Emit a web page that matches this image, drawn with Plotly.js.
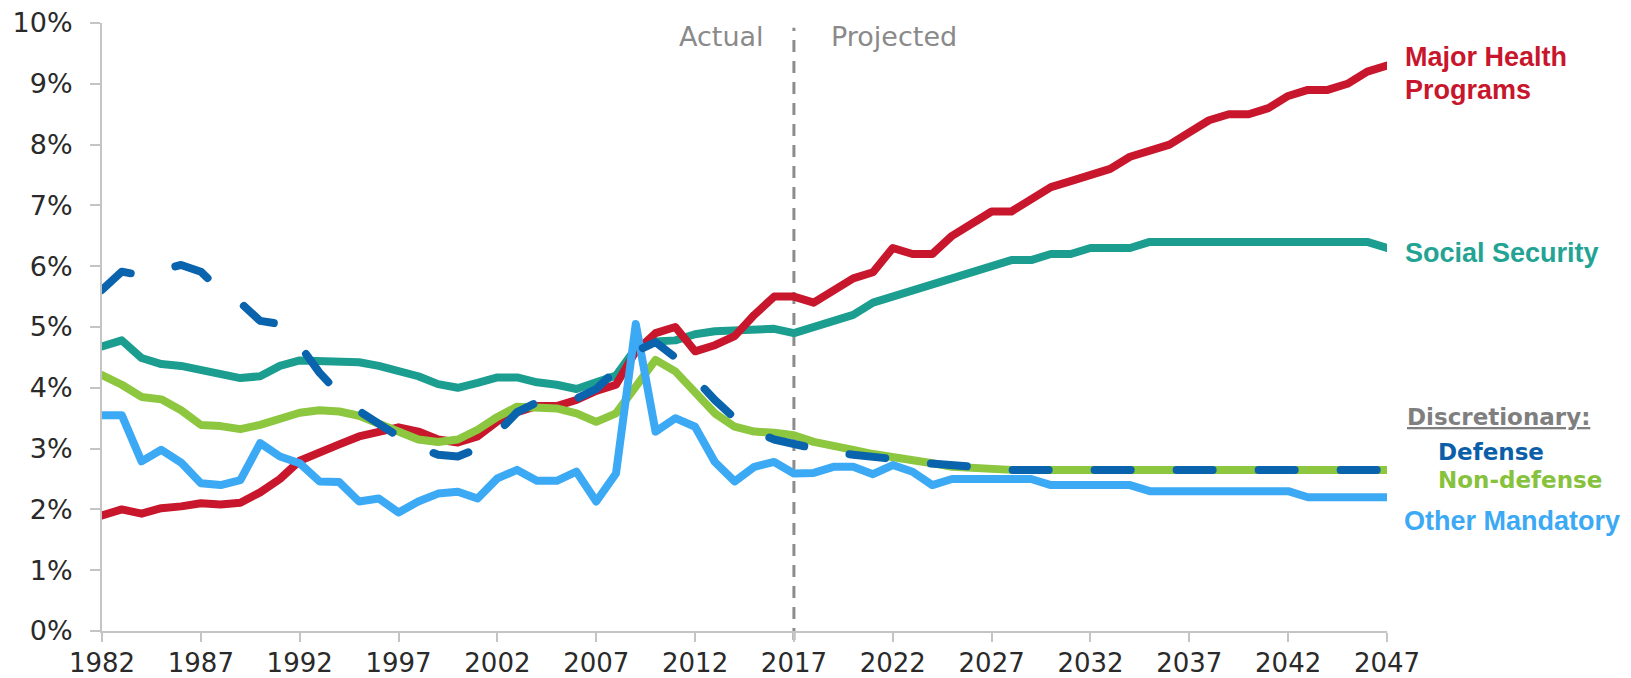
<!DOCTYPE html>
<html>
<head>
<meta charset="utf-8">
<script src="https://cdn.plot.ly/plotly-3.0.1.min.js"></script>
<style>
  html, body { margin: 0; padding: 0; background: #fff; }
  #chart { width: 1631px; height: 678px; }
  .scatterlayer .js-line { stroke-linejoin: round; stroke-linecap: round; }
</style>
</head>
<body>
<div id="chart"></div>
<script>
// ---- Data (share of GDP, %) ----
const years = [1982,1983,1984,1985,1986,1987,1988,1989,1990,1991,1992,1993,1994,1995,1996,1997,1998,1999,2000,2001,
  2002,2003,2004,2005,2006,2007,2008,2009,2010,2011,2012,2013,2014,2015,2016,2017,2018,2019,2020,2021,
  2022,2023,2024,2025,2026,2027,2028,2029,2030,2031,2032,2033,2034,2035,2036,2037,2038,2039,2040,2041,
  2042,2043,2044,2045,2046,2047];

const majorHealth = [1.9,2.0,1.93,2.02,2.05,2.1,2.08,2.11,2.28,2.5,2.8,2.95,3.07,3.2,3.28,3.35,3.28,3.15,3.1,3.2,
  3.45,3.6,3.7,3.7,3.8,3.95,4.05,4.6,4.9,5.0,4.6,4.7,4.85,5.2,5.5,5.5,5.4,5.6,5.8,5.9,
  6.3,6.2,6.2,6.5,6.7,6.9,6.9,7.1,7.3,7.4,7.5,7.6,7.8,7.9,8.0,8.2,8.4,8.5,8.5,8.6,
  8.8,8.9,8.9,9.0,9.2,9.3];

const socialSecurity = [4.68,4.78,4.49,4.39,4.36,4.3,4.24,4.16,4.19,4.36,4.45,4.45,4.43,4.42,4.36,4.29,4.19,4.06,4.0,4.08,
  4.17,4.17,4.09,4.05,3.98,4.09,4.2,4.65,4.76,4.78,4.88,4.93,4.95,4.95,4.97,4.9,5.0,5.1,5.2,5.4,
  5.5,5.6,5.7,5.8,5.9,6.0,6.1,6.1,6.2,6.2,6.3,6.3,6.3,6.4,6.4,6.4,6.4,6.4,6.4,6.4,
  6.4,6.4,6.4,6.4,6.4,6.3];

const defense = [5.61,5.91,5.85,5.92,6.02,5.91,5.6,5.4,5.1,5.05,4.7,4.25,3.9,3.62,3.4,3.2,3.02,2.9,2.87,3.0,
  3.26,3.6,3.76,3.8,3.82,3.98,4.3,4.6,4.75,4.5,4.15,3.8,3.5,3.28,3.15,3.07,3.0,2.93,2.9,2.88,
  2.83,2.78,2.75,2.72,2.68,2.65,2.65,2.65,2.65,2.65,2.65,2.65,2.65,2.65,2.65,2.65,2.65,2.65,2.65,2.65,
  2.65,2.65,2.65,2.65,2.65,2.65];

const nonDefense = [4.21,4.05,3.85,3.81,3.63,3.39,3.37,3.32,3.39,3.5,3.59,3.63,3.61,3.54,3.4,3.26,3.15,3.11,3.15,3.31,
  3.52,3.69,3.66,3.66,3.58,3.44,3.58,4.02,4.46,4.27,3.94,3.58,3.36,3.28,3.26,3.22,3.11,3.06,2.98,2.91,
  2.87,2.8,2.76,2.7,2.68,2.65,2.65,2.65,2.65,2.65,2.65,2.65,2.65,2.65,2.65,2.65,2.65,2.65,2.65,2.65,
  2.65,2.65,2.65,2.65,2.65,2.65];

const otherMandatory = [3.55,3.55,2.79,2.98,2.77,2.43,2.4,2.48,3.09,2.87,2.76,2.46,2.45,2.13,2.18,1.95,2.13,2.26,2.29,2.18,
  2.51,2.65,2.47,2.47,2.62,2.13,2.59,5.05,3.28,3.5,3.36,2.78,2.46,2.7,2.78,2.59,2.6,2.7,2.7,2.58,
  2.73,2.62,2.4,2.5,2.5,2.5,2.5,2.5,2.4,2.4,2.4,2.4,2.4,2.3,2.3,2.3,2.3,2.3,2.3,2.3,
  2.3,2.2,2.2,2.2,2.2,2.2];

const xTickVals = [1982,1987,1992,1997,2002,2007,2012,2017,2022,2027,2032,2037,2042,2047];
const yTickVals = [0,1,2,3,4,5,6,7,8,9,10];
const yTickText = ["0%","1%","2%","3%","4%","5%","6%","7%","8%","9%","10%"];
const splitYear = 2017;

const seriesNames = ["Social Security","Major Health Programs","Non-defense","Other Mandatory","Defense"];

// ---- Styles ----
const C = {
  red: "#c8162c",
  teal: "#1b9e8f",
  green: "#8dc63f",
  light: "#3ca9f5",
  navy: "#0a63ad",
  grayText: "#8a8a8a",
  axis: "#c4c4c4"
};
const LW = 8;

function line(y, name, color, dash) {
  return {
    x: years, y: y, name: name, type: "scatter", mode: "lines",
    line: { color: color, width: LW, dash: dash || "solid" },
    hoverinfo: "skip", showlegend: false, cliponaxis: false
  };
}

const traces = [
  line(socialSecurity, seriesNames[0], C.teal),
  line(majorHealth, seriesNames[1], C.red),
  line(nonDefense, seriesNames[2], C.green),
  line(otherMandatory, seriesNames[3], C.light),
  line(defense, seriesNames[4], C.navy, "36px,46px")
];

const px2x = p => (p - 102) / 1285;
const py2y = p => (631 - p) / 608;
const labelFont = (color, size) => ({ family: "Liberation Sans, Arial, sans-serif", size: size || 27, color: color, weight: 700 });
const discFont = (color) => ({ family: "DejaVu Sans", size: 23, color: color, weight: 700 });

const annotations = [
  { text: "Actual", xref: "x", yref: "paper", x: splitYear, y: py2y(37), xanchor: "right", yanchor: "middle",
    xshift: -28, showarrow: false, font: { family: "DejaVu Sans", size: 27, color: C.grayText } },
  { text: "Projected", xref: "x", yref: "paper", x: splitYear, y: py2y(37), xanchor: "left", yanchor: "middle",
    xshift: 35, showarrow: false, font: { family: "DejaVu Sans", size: 27, color: C.grayText } },
  { text: "Major Health", xref: "paper", yref: "paper", x: px2x(1403), y: py2y(57), xanchor: "left", yanchor: "middle",
    showarrow: false, font: labelFont(C.red) },
  { text: "Programs", xref: "paper", yref: "paper", x: px2x(1403), y: py2y(90), xanchor: "left", yanchor: "middle",
    showarrow: false, font: labelFont(C.red) },
  { text: "Social Security", xref: "paper", yref: "paper", x: px2x(1403), y: py2y(253), xanchor: "left", yanchor: "middle",
    showarrow: false, font: labelFont("#22a393") },
  { text: "<u>Discretionary:</u>", xref: "paper", yref: "paper", x: px2x(1405), y: py2y(417), xanchor: "left", yanchor: "middle",
    showarrow: false, font: discFont("#7f7f7f") },
  { text: "Defense", xref: "paper", yref: "paper", x: px2x(1436), y: py2y(452), xanchor: "left", yanchor: "middle",
    showarrow: false, font: discFont("#0b5ea8") },
  { text: "Non-defense", xref: "paper", yref: "paper", x: px2x(1436), y: py2y(480), xanchor: "left", yanchor: "middle",
    showarrow: false, font: discFont("#86c23c") },
  { text: "Other Mandatory", xref: "paper", yref: "paper", x: px2x(1402), y: py2y(521), xanchor: "left", yanchor: "middle",
    showarrow: false, font: labelFont("#3ca9f5") }
];

const layout = {
  width: 1631, height: 678,
  margin: { l: 102, r: 244, t: 23, b: 47 },
  paper_bgcolor: "#ffffff", plot_bgcolor: "#ffffff",
  showlegend: false,
  xaxis: {
    range: [1982, 2047], tickvals: xTickVals, ticktext: xTickVals.map(String),
    showgrid: false, zeroline: false, showline: true, linecolor: C.axis, linewidth: 2,
    ticks: "outside", ticklen: 9, tickwidth: 2, tickcolor: C.axis, ticklabelstandoff: -1,
    tickfont: { family: "DejaVu Sans", size: 26, color: "#2a2a2a" }
  },
  yaxis: {
    range: [0, 10], tickvals: yTickVals, ticktext: yTickText,
    showgrid: false, zeroline: false, showline: true, linecolor: C.axis, linewidth: 2,
    ticks: "outside", ticklen: 10, tickwidth: 2, tickcolor: C.axis, ticklabelstandoff: 12,
    tickfont: { family: "DejaVu Sans", size: 27, color: "#2a2a2a" }
  },
  shapes: [
    { type: "line", xref: "x", yref: "paper", x0: splitYear, x1: splitYear, y0: -0.015, y1: 0.992,
      line: { color: "#8c8c8c", width: 3, dash: "12px,9px" }, layer: "below" }
  ],
  annotations: annotations
};

Plotly.newPlot("chart", traces, layout, { staticPlot: true, displayModeBar: false });
</script>
</body>
</html>
